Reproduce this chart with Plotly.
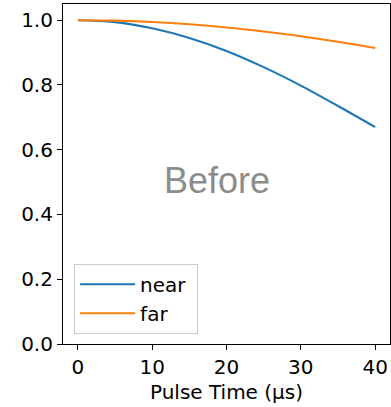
import plotly.graph_objects as go

t = [0, 5, 10, 15, 20, 25, 30, 35, 40]
near = [1.0, 0.994, 0.975, 0.945, 0.905, 0.855, 0.798, 0.735, 0.67]
far = [1.0, 0.9986, 0.9944, 0.9874, 0.9776, 0.965, 0.9504, 0.9332, 0.914]
x_ticks = [0, 10, 20, 30, 40]
y_ticks = [0.0, 0.2, 0.4, 0.6, 0.8, 1.0]
series_names = ["near", "far"]

FONT = "DejaVu Sans"
FS = 20
fig = go.Figure()
fig.add_trace(go.Scatter(x=t, y=near, mode="lines", name=series_names[0] + "\u00a0",
                         line=dict(color="#1f77b4", width=2.1, shape="spline")))
fig.add_trace(go.Scatter(x=t, y=far, mode="lines", name=series_names[1],
                         line=dict(color="#ff7f0e", width=2.1, shape="spline")))

axis_common = dict(showline=True, mirror=True, linecolor="black", linewidth=1.1,
                   ticks="outside", ticklen=5, tickwidth=1.1, tickcolor="black",
                   showgrid=False, zeroline=False,
                   tickfont=dict(family=FONT, size=FS, color="black"))
fig.update_xaxes(range=[-2, 42], tickvals=x_ticks,
                 title=dict(text="Pulse Time (μs)", standoff=6,
                            font=dict(family=FONT, size=FS, color="black")),
                 **axis_common)
fig.update_yaxes(range=[0, 1.05], tickvals=y_ticks, tickformat=".1f", **axis_common)

fig.add_annotation(text="Before", x=0.471, y=0.482, xref="paper", yref="paper",
                   showarrow=False,
                   font=dict(family="Liberation Sans", size=36, color="#8c8c8c"))
fig.add_annotation(text="8", x=0.963, y=-0.17, xref="paper", yref="paper",
                   xanchor="center", yanchor="top", showarrow=False,
                   font=dict(family=FONT, size=FS, color="black"))

fig.update_layout(
    width=391, height=407,
    margin=dict(l=63, r=1, t=4, b=63),
    plot_bgcolor="white", paper_bgcolor="white",
    legend=dict(x=0.034, y=0.03, xanchor="left", yanchor="bottom",
                bgcolor="rgba(255,255,255,0.8)", bordercolor="#cccccc", borderwidth=1,
                font=dict(family=FONT, size=FS, color="black"),
                itemwidth=55, tracegroupgap=0),
    showlegend=True,
)
fig.write_html("out.html")
